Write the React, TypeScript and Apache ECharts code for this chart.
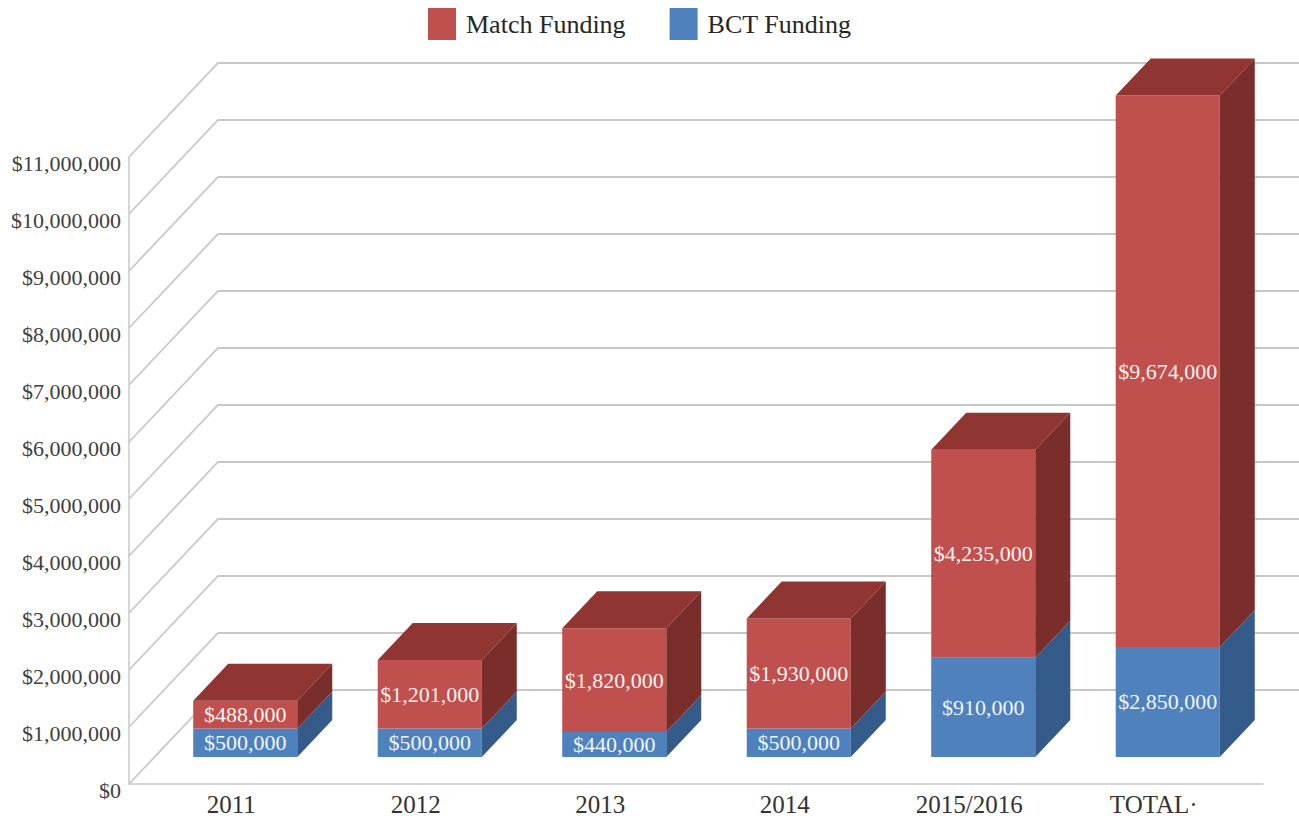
import React, { useEffect, useRef } from 'react';
import * as echarts from 'echarts';

// ---- data ----
const categories = ['2011', '2012', '2013', '2014', '2015/2016', 'TOTAL\u00B7'];
// bar heights as drawn
const bctValues = [500000, 500000, 440000, 500000, 1740000, 1930000];
const matchValues = [488000, 1201000, 1820000, 1930000, 3650000, 9674000];
// numbers printed on the bars
const bctLabels = [500000, 500000, 440000, 500000, 910000, 2850000];
const matchLabels = [488000, 1201000, 1820000, 1930000, 4235000, 9674000];
// value axis ticks
const yTicks = [0, 1000000, 2000000, 3000000, 4000000, 5000000, 6000000, 7000000, 8000000, 9000000, 10000000, 11000000];

const RED = { front: '#C0504D', top: '#913532', side: '#7A2E2C' };
const BLUE = { front: '#4F81BD', top: '#3B6397', side: '#345B8A' };
const WALL_DX = 89;
const WALL_DY = -94;
const BAR_DX = 35;
const BAR_DY = -37;
const FONT = '"Liberation Serif", "Times New Roman", serif';

const fmt = (v: number) => '$' + v.toLocaleString('en-US');

function makeBarRender(isTop: boolean) {
  const palette = isTop ? RED : BLUE;
  const labels = isTop ? matchLabels : bctLabels;
  return (params: any, api: any) => {
    const i = api.value(0);
    const val = api.value(1);
    const base = isTop ? bctValues[i] : 0;
    const pBase = api.coord([i, base]);
    const pTop = api.coord([i, base + val]);
    const band = api.size([1, 0])[0];
    const w = band * 0.564;
    const xL = pBase[0] - w / 2 + 3;
    const xR = pBase[0] + w / 2 + 3;
    const yB = pBase[1];
    const yT = pTop[1];
    const children: any[] = [
      {
        type: 'rect',
        shape: { x: xL, y: yT, width: w, height: yB - yT },
        style: { fill: palette.front },
      },
      {
        type: 'polygon',
        shape: {
          points: [
            [xR, yT],
            [xR + BAR_DX, yT + BAR_DY],
            [xR + BAR_DX, yB + BAR_DY],
            [xR, yB],
          ],
        },
        style: { fill: palette.side },
      },
    ];
    if (isTop) {
      children.push({
        type: 'polygon',
        shape: {
          points: [
            [xL, yT],
            [xL + BAR_DX, yT + BAR_DY],
            [xR + BAR_DX, yT + BAR_DY],
            [xR, yT],
          ],
        },
        style: { fill: palette.top },
      });
    }
    children.push({
      type: 'text',
      x: (xL + xR) / 2,
      y: (yT + yB) / 2,
      style: {
        text: fmt(labels[i]),
        fill: isTop ? '#FFF3F1' : '#F0F6FF',
        fontSize: 22,
        fontFamily: FONT,
        align: 'center',
        verticalAlign: 'middle',
      },
    });
    return { type: 'group', children };
  };
}

export default function App() {
  const ref = useRef<HTMLDivElement>(null);
  useEffect(() => {
    document.body.style.margin = '0';
    const chart = echarts.init(ref.current as HTMLDivElement, undefined, { renderer: 'svg' });
    const option: any = {
      animation: false,
      backgroundColor: '#ffffff',
      legend: {
        top: 8,
        left: 428,
        padding: 0,
        itemWidth: 28,
        itemHeight: 32,
        itemGap: 44,
        icon: 'rect',
        textStyle: { fontSize: 26, fontFamily: FONT, color: '#262626', padding: [0, 0, 0, 5] },
        data: [
          { name: 'Match Funding', itemStyle: { color: RED.front } },
          { name: 'BCT Funding', itemStyle: { color: BLUE.front } },
        ],
      },
      grid: [
        // bar plane
        { left: 150, right: 42, top: 130, bottom: 61 },
        // front plane
        { left: 129, right: 36, top: 157, bottom: 34 },
      ],
      xAxis: [
        {
          gridIndex: 0,
          type: 'category',
          data: categories,
          axisLine: { show: false },
          axisTick: { show: false },
          axisLabel: {
            interval: 0,
            margin: 35,
            padding: [0, 22, 0, 0],
            fontSize: 25,
            fontFamily: FONT,
            color: '#333333',
          },
        },
        {
          gridIndex: 1,
          type: 'value',
          min: 0,
          max: 1,
          axisLine: { show: true, lineStyle: { color: '#C8C8C8', width: 1.5 } },
          axisTick: { show: false },
          axisLabel: { show: false },
          splitLine: { show: false },
        },
      ],
      yAxis: [
        {
          gridIndex: 0,
          type: 'value',
          min: 0,
          max: 11000000,
          interval: 1000000,
          show: false,
          splitLine: { show: false },
        },
        {
          gridIndex: 1,
          type: 'value',
          min: 0,
          max: 11000000,
          interval: 1000000,
          axisLine: { show: true, lineStyle: { color: '#C8C8C8', width: 1.5 } },
          axisTick: { show: false },
          splitLine: { show: false },
          axisLabel: {
            margin: 8,
            formatter: (v: number) => '{a|' + fmt(v) + '}',
            rich: {
              a: {
                fontSize: 22,
                fontFamily: FONT,
                color: '#404040',
                padding: [13, 0, 0, 0],
              },
            },
          },
        },
      ],
      series: [
        {
          name: 'grid3d',
          type: 'custom',
          xAxisIndex: 1,
          yAxisIndex: 1,
          clip: false,
          silent: true,
          z: 1,
          data: yTicks.map((v) => [0, v]),
          renderItem: (params: any, api: any) => {
            const p = api.coord([0, api.value(1)]);
            return {
              type: 'polyline',
              shape: {
                points: [
                  [p[0], p[1]],
                  [p[0] + WALL_DX, p[1] + WALL_DY],
                  [1400, p[1] + WALL_DY],
                ],
              },
              style: { stroke: '#C8C8C8', lineWidth: 1.8, fill: 'none' },
            };
          },
        },
        {
          name: 'BCT Funding',
          type: 'custom',
          xAxisIndex: 0,
          yAxisIndex: 0,
          clip: false,
          z: 2,
          itemStyle: { color: BLUE.front },
          data: bctValues.map((v, i) => [i, v]),
          renderItem: makeBarRender(false),
        },
        {
          name: 'Match Funding',
          type: 'custom',
          xAxisIndex: 0,
          yAxisIndex: 0,
          clip: false,
          z: 3,
          itemStyle: { color: RED.front },
          data: matchValues.map((v, i) => [i, v]),
          renderItem: makeBarRender(true),
        },
      ],
    };
    chart.setOption(option);
    return () => chart.dispose();
  }, []);
  return <div ref={ref} style={{ width: 1299, height: 818 }} />;
}
